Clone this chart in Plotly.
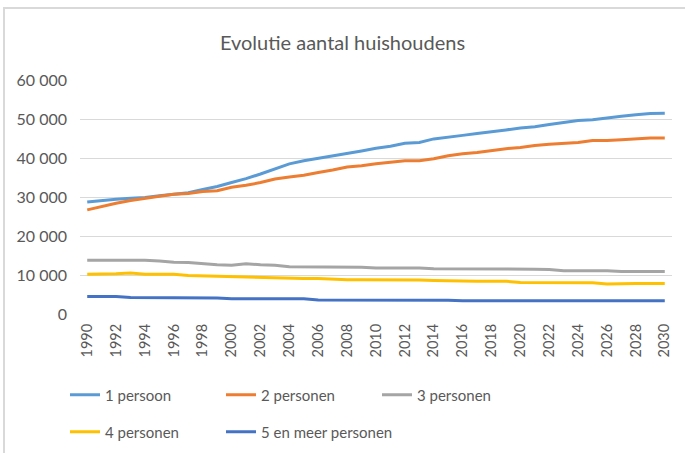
import plotly.graph_objects as go

years = list(range(1990, 2031))

p1 = [28700, 29100, 29400, 29700, 29900, 30300, 30700, 31100, 31900, 32700,
      33700, 34700, 35900, 37200, 38500, 39300, 39900, 40500, 41100, 41800,
      42500, 43000, 43800, 44000, 44900, 45300, 45800, 46300, 46700, 47200,
      47700, 48000, 48600, 49100, 49600, 49800, 50300, 50700, 51100, 51400, 51500]
p2 = [26700, 27600, 28400, 29100, 29700, 30200, 30700, 30900, 31400, 31600,
      32500, 33000, 33700, 34600, 35100, 35600, 36300, 36900, 37700, 38000,
      38500, 38900, 39300, 39300, 39800, 40600, 41100, 41400, 41900, 42400,
      42700, 43200, 43500, 43700, 44000, 44500, 44500, 44700, 44900, 45100, 45100]
p3 = [13800, 13800, 13800, 13800, 13800, 13600, 13300, 13200, 12900, 12600,
      12500, 12900, 12600, 12500, 12100, 12100, 12100, 12100, 12100, 12000,
      11800, 11800, 11800, 11800, 11600, 11600, 11600, 11500, 11500, 11500,
      11500, 11500, 11400, 11100, 11100, 11100, 11100, 10900, 10900, 10900, 10900]
p4 = [10200, 10200, 10300, 10500, 10200, 10200, 10200, 9900, 9800, 9700,
      9600, 9500, 9300, 9200, 9100, 9100, 9100, 8900, 8800, 8800,
      8800, 8800, 8800, 8700, 8600, 8500, 8400, 8400, 8400, 8400,
      8100, 8100, 8100, 8100, 8100, 8000, 7700, 7800, 7800, 7800, 7800]
p5 = [4500, 4500, 4500, 4200, 4200, 4200, 4200, 4200, 4200, 4100,
      3900, 3900, 4000, 4000, 4000, 3900, 3600, 3600, 3600, 3600,
      3600, 3600, 3600, 3600, 3600, 3500, 3400, 3400, 3400, 3400,
      3400, 3400, 3400, 3400, 3400, 3400, 3400, 3400, 3400, 3400, 3400]

series = [
    ("1 persoon", p1, "#5B9BD5", "legend"),
    ("2 personen", p2, "#ED7D31", "legend"),
    ("3 personen", p3, "#A5A5A5", "legend"),
    ("4 personen", p4, "#FFC000", "legend2"),
    ("5 en meer personen", p5, "#4472C4", "legend3"),
]
ytick_vals = [0, 10000, 20000, 30000, 40000, 50000, 60000]
xtick_vals = list(range(1990, 2031, 2))

FONT = "Lato"
GREY = "#595959"

fig = go.Figure()
for name, vals, col, lg in series:
    fig.add_trace(go.Scatter(x=years, y=vals, name=name, mode="lines",
                             legend=lg, line=dict(color=col, width=3)))

W, H = 685, 453
L, R, T, B = 80, 13, 80, 139
pw, ph = W - L - R, H - T - B

def px_x(x):
    return (x - L) / pw

def px_y(y):
    return (H - B - y) / ph

leg_common = dict(orientation="h", xanchor="left", yanchor="middle",
                  entrywidth=111, entrywidthmode="pixels",
                  font=dict(family=FONT, size=15, color=GREY),
                  itemwidth=30, bgcolor="rgba(0,0,0,0)")
leg_wide = dict(leg_common, entrywidth=200)

fig.update_layout(
    width=W, height=H,
    margin=dict(l=L, r=R, t=T, b=B, autoexpand=False),
    paper_bgcolor="white", plot_bgcolor="white",
    separators=", ",
    font=dict(family=FONT, color=GREY, size=14),
    title=dict(text="Evolutie aantal huishoudens", x=0.5, xanchor="center",
               y=1 - 43 / H, yanchor="middle", yref="container",
               font=dict(family=FONT, size=20, color=GREY)),
    xaxis=dict(range=[1989.5, 2030.5], tickvals=xtick_vals, tickformat="d",
               tickangle=-90, showgrid=False, zeroline=False, automargin=False,
               showline=False, ticks="", ticklabelstandoff=6,
               tickfont=dict(size=14.5, color=GREY)),
    yaxis=dict(range=[0, 60000], tickvals=ytick_vals, tickformat=",d",
               showgrid=True, gridcolor="#D9D9D9", gridwidth=1, automargin=False,
               zeroline=False, showline=False, ticks="",
               ticklabelstandoff=12,
               tickfont=dict(size=16, color=GREY)),
    showlegend=True,
    legend=dict(x=px_x(65), y=px_y(395), **leg_common),
    legend2=dict(x=px_x(65), y=px_y(432), **leg_wide),
    legend3=dict(x=px_x(221), y=px_y(432), **leg_wide),
    shapes=[dict(type="rect", xref="paper", yref="paper",
                 x0=px_x(4), x1=px_x(700), y0=px_y(470), y1=px_y(8),
                 line=dict(color="#D9D9D9", width=2), fillcolor="rgba(0,0,0,0)",
                 layer="below")],
)

fig.write_html("out.html", config={"displayModeBar": False},
               post_script="document.body.style.margin='0';document.body.style.overflow='hidden';")
